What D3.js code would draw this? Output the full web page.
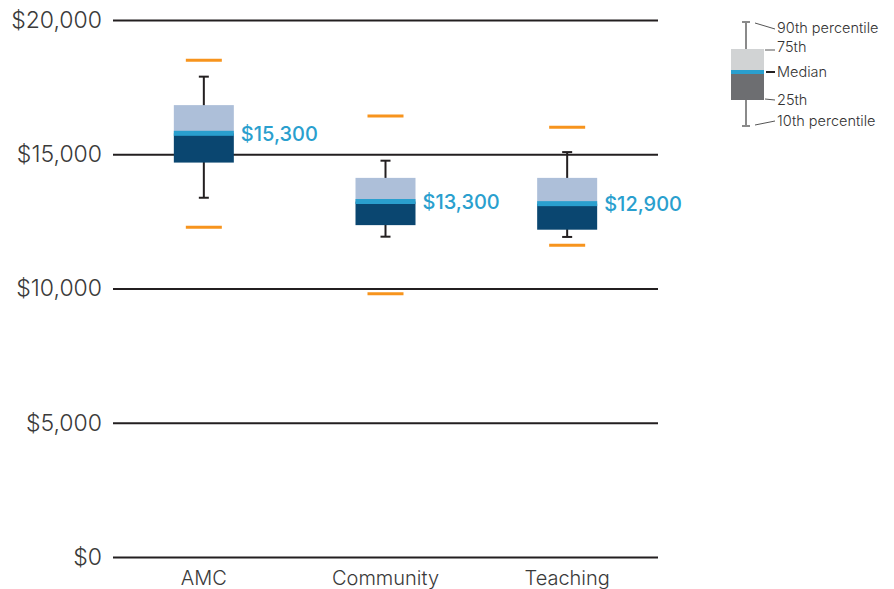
<!DOCTYPE html>
<html><head><meta charset="utf-8">
<script src="https://cdn.jsdelivr.net/npm/d3@7"></script>
<style>
body{margin:0;background:#fff;}
svg{display:block;font-family:Inter,Roboto,"Liberation Sans",sans-serif;}
</style></head>
<body>
<svg id="c" width="894" height="589"></svg>
<script>
const categories = ["AMC", "Community", "Teaching"];
const highMark = [18500, 16420, 16010];
const p90 = [17890, 14760, 15080];
const q3 = [16830, 14120, 14120];
const median = [15780, 13240, 13160];
const q1 = [14690, 12360, 12190];
const p10 = [13380, 11930, 11920];
const lowMark = [12280, 9800, 11610];
const valueLabels = ["$15,300", "$13,300", "$12,900"];
const yTicks = [0, 5000, 10000, 15000, 20000];

(function () {
const svg = d3.select("#c");
const mLeft = 113, mRight = 658, mTop = 20, mBottom = 557;
const x = d3.scaleBand().domain(categories).range([mLeft, mRight]);
const y = d3.scaleLinear().domain([0, 20000]).range([mBottom, mTop]);
const dark = "#231f20";
const FONT = "Inter, Roboto, 'Liberation Sans', sans-serif";

// grid / y axis
const yAxis = d3.axisLeft(y).tickValues(yTicks).tickSize(-(mRight - mLeft)).tickPadding(11)
  .tickFormat(d => "$" + d3.format(",")(d));
const ga = svg.append("g").attr("transform", `translate(${mLeft},0)`).call(yAxis).attr("font-family", FONT);
ga.select(".domain").remove();
ga.selectAll(".tick line").attr("stroke", dark).attr("stroke-width", 2);
ga.selectAll(".tick text").attr("fill", "#3a3a3a").attr("font-size", 23).attr("font-weight", 300);

// x axis labels
const xAxis = d3.axisBottom(x).tickSize(0).tickPadding(14);
const gx = svg.append("g").attr("transform", `translate(0,${mBottom})`).call(xAxis).attr("font-family", FONT);
gx.select(".domain").remove();
gx.selectAll(".tick text").attr("fill", "#3a3a3a").attr("font-size", 20).attr("font-weight", 300);

const data = categories.map((c, i) => ({c, hi: highMark[i], p90: p90[i], q3: q3[i], med: median[i], q1: q1[i], p10: p10[i], lo: lowMark[i], label: valueLabels[i]}));
const boxW = 60, capW = 10, markW = 36, band = 5;
const g = svg.append("g").selectAll("g").data(data).join("g")
  .attr("transform", d => `translate(${x(d.c) + x.bandwidth() / 2},0)`);

g.append("line").attr("x1", 0).attr("x2", 0).attr("y1", d => y(d.p90)).attr("y2", d => y(d.p10))
  .attr("stroke", dark).attr("stroke-width", 2);
g.append("line").attr("x1", -capW / 2).attr("x2", capW / 2).attr("y1", d => y(d.p90)).attr("y2", d => y(d.p90))
  .attr("stroke", dark).attr("stroke-width", 2);
g.append("line").attr("x1", -capW / 2).attr("x2", capW / 2).attr("y1", d => y(d.p10)).attr("y2", d => y(d.p10))
  .attr("stroke", dark).attr("stroke-width", 2);
g.append("rect").attr("x", -boxW / 2).attr("width", boxW).attr("y", d => y(d.q3)).attr("height", d => y(d.med) - y(d.q3))
  .attr("fill", "#adbfd9");
g.append("rect").attr("x", -boxW / 2).attr("width", boxW).attr("y", d => y(d.med)).attr("height", d => y(d.q1) - y(d.med))
  .attr("fill", "#0a4670");
g.append("rect").attr("x", -boxW / 2).attr("width", boxW).attr("y", d => y(d.med) - band / 2).attr("height", band)
  .attr("fill", "#2a9fce");
g.append("line").attr("x1", -markW / 2).attr("x2", markW / 2).attr("y1", d => y(d.hi)).attr("y2", d => y(d.hi))
  .attr("stroke", "#f7941d").attr("stroke-width", 3);
g.append("line").attr("x1", -markW / 2).attr("x2", markW / 2).attr("y1", d => y(d.lo)).attr("y2", d => y(d.lo))
  .attr("stroke", "#f7941d").attr("stroke-width", 3);
g.append("text").attr("x", boxW / 2 + 7).attr("y", d => y(d.med) + 2).attr("dominant-baseline", "middle")
  .attr("fill", "#2a9fce").attr("font-size", 20).attr("font-weight", 500).text(d => d.label);

// legend
const lg = svg.append("g");
const lx = 746, grey = "#8a8a8a";
lg.append("line").attr("x1", lx).attr("x2", lx).attr("y1", 22).attr("y2", 126).attr("stroke", grey).attr("stroke-width", 2);
lg.append("line").attr("x1", lx - 4).attr("x2", lx + 4).attr("y1", 22).attr("y2", 22).attr("stroke", grey).attr("stroke-width", 2);
lg.append("line").attr("x1", lx - 4).attr("x2", lx + 4).attr("y1", 126).attr("y2", 126).attr("stroke", grey).attr("stroke-width", 2);
lg.append("rect").attr("x", 731).attr("y", 49).attr("width", 33).attr("height", 21).attr("fill", "#d1d3d4");
lg.append("rect").attr("x", 731).attr("y", 74).attr("width", 33).attr("height", 26).attr("fill", "#6d6e71");
lg.append("rect").attr("x", 731).attr("y", 70).attr("width", 33).attr("height", 4).attr("fill", "#2a9fce");
const leaders = [[755, 23, 775, 29], [765, 50, 775, 50], [766, 72, 775, 72], [765, 99, 775, 100], [755, 125, 775, 121]];
leaders.forEach((l, i) => lg.append("line").attr("x1", l[0]).attr("y1", l[1]).attr("x2", l[2]).attr("y2", l[3])
  .attr("stroke", i === 2 ? dark : "#555").attr("stroke-width", i === 2 ? 2 : 1));
const legendText = [["90th percentile", 29], ["75th", 48], ["Median", 73], ["25th", 101], ["10th percentile", 122]];
legendText.forEach(t => lg.append("text").attr("x", 777).attr("y", t[1]).attr("dominant-baseline", "middle")
  .attr("font-size", 14.5).attr("fill", "#333").attr("font-weight", 300).text(t[0]));
})();
</script>
</body></html>
